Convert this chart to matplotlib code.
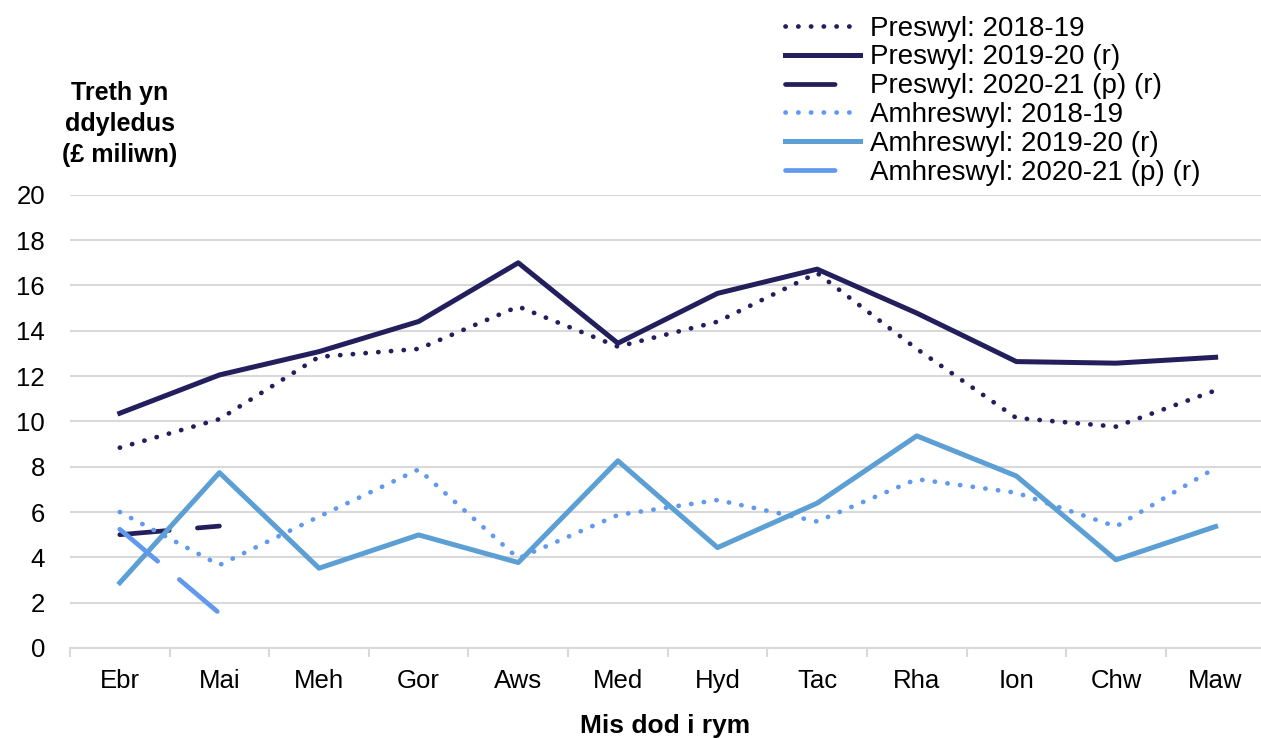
import matplotlib.pyplot as plt
import numpy as np

plt.rcParams['font.family'] = ['Liberation Sans', 'DejaVu Sans']

months = ['Ebr', 'Mai', 'Meh', 'Gor', 'Aws', 'Med', 'Hyd', 'Tac', 'Rha', 'Ion', 'Chw', 'Maw']

# Treth yn ddyledus (£ miliwn)
res_1819 = [8.84, 10.1, 12.85, 13.2, 15.07, 13.3, 14.4, 16.55, 13.2, 10.15, 9.77, 11.37]
res_1920 = [10.36, 12.05, 13.08, 14.41, 17.0, 13.45, 15.65, 16.72, 14.78, 12.64, 12.57, 12.83]
res_2021 = [5.0, 5.38]
nonres_1819 = [6.0, 3.66, 5.8, 7.88, 3.95, 5.87, 6.53, 5.58, 7.45, 6.85, 5.36, 7.95]
nonres_1920 = [2.88, 7.74, 3.52, 4.99, 3.77, 8.26, 4.43, 6.39, 9.36, 7.59, 3.89, 5.36]
nonres_2021 = [5.24, 1.53]

dark = '#231E5C'
light_solid = '#5B9FD4'
light_dash = '#6199EE'

fig = plt.figure(figsize=(12.61, 7.38), dpi=100)
ax = fig.add_axes([0.0555, 0.122, 0.948, 0.614])

x = np.arange(len(months))
dot = (0, (0.05, 2.65))
dash = (0, (10.5, 6.0))

ax.plot(x, res_1819, color=dark, lw=3.4, ls=dot, dash_capstyle='round', label='Preswyl: 2018-19')
ax.plot(x, res_1920, color=dark, lw=3.6, label='Preswyl: 2019-20 (r)')
ax.plot(x[:len(res_2021)], res_2021, color=dark, lw=3.4, ls=dash, dash_capstyle='round',
        label='Preswyl: 2020-21 (p) (r)')
ax.plot(x, nonres_1819, color=light_dash, lw=3.4, ls=dot, dash_capstyle='round',
        label='Amhreswyl: 2018-19')
ax.plot(x, nonres_1920, color=light_solid, lw=3.6, label='Amhreswyl: 2019-20 (r)')
ax.plot(x[:len(nonres_2021)], nonres_2021, color=light_dash, lw=3.4, ls=dash,
        dash_capstyle='round', label='Amhreswyl: 2020-21 (p) (r)')

ax.set_xlim(-0.5, 11.5)
ax.set_ylim(0, 20)
ax.set_yticks(range(0, 21, 2))
ax.set_xticks(x)
ax.set_xticklabels(months)
ax.set_xticks(np.arange(-0.5, 12, 1), minor=True)
ax.yaxis.grid(True, color='#D9D9D9', lw=1.5)
ax.set_axisbelow(True)
for s in ['top', 'right', 'left']:
    ax.spines[s].set_visible(False)
ax.spines['bottom'].set_color('#D9D9D9')
ax.spines['bottom'].set_linewidth(1.5)
ax.tick_params(axis='y', length=0, pad=18, labelsize=18.5)
ax.tick_params(axis='x', which='major', length=0, pad=15, labelsize=18.5)
ax.tick_params(axis='x', which='minor', length=6.5, width=1.5, color='#D9D9D9')

fig.text(120 / 1261, 1 - 124 / 738, 'Treth yn\nddyledus\n(£ miliwn)', ha='center', va='center',
         fontsize=18, fontweight='bold', linespacing=1.36)
fig.text(665 / 1261, 1 - 726 / 738, 'Mis dod i rym', ha='center', va='center',
         fontsize=19, fontweight='bold')

fig.legend(loc='upper left', bbox_to_anchor=(768 / 1261, 1 + 1 / 738), frameon=False,
           fontsize=20, handlelength=2.7, handletextpad=0.36, labelspacing=0.1,
           borderpad=0.1)

fig.savefig('out.png', dpi=100)
